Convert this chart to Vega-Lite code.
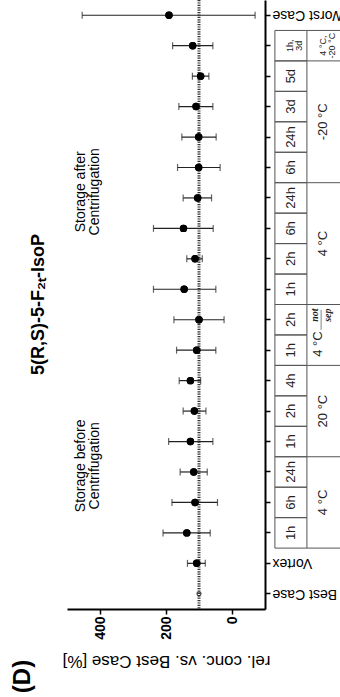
{
  "$schema": "https://vega.github.io/schema/vega-lite/v6.json",
  "width": 198,
  "height": 609,
  "autosize": {"type": "none"},
  "padding": {"left": 67, "top": 0, "right": 75, "bottom": 88},
  "background": "white",
  "config": {"view": {"stroke": null}, "font": "Liberation Sans"},
  "title": {"text": "5(R,S)-5-F₂ₜ-IsoP", "orient": "left", "anchor": "middle", "fontSize": 18, "fontWeight": "bold", "font": "Liberation Sans", "offset": -38, "color": "black"},
  "datasets": {
    "one": [{}],
    "pts": [
      {"cat": "Best Case", "mean": 100},
      {"cat": "Vortex", "mean": 107, "lo": 81, "hi": 135},
      {"cat": "b4-1h", "mean": 137, "lo": 66, "hi": 209},
      {"cat": "b4-6h", "mean": 112, "lo": 44, "hi": 182},
      {"cat": "b4-24h", "mean": 116, "lo": 75, "hi": 157},
      {"cat": "b20-1h", "mean": 126, "lo": 58, "hi": 192},
      {"cat": "b20-2h", "mean": 114, "lo": 79, "hi": 148},
      {"cat": "b20-4h", "mean": 126, "lo": 95, "hi": 160},
      {"cat": "ns-1h", "mean": 107, "lo": 49, "hi": 168},
      {"cat": "ns-2h", "mean": 100, "lo": 24, "hi": 176},
      {"cat": "a4-1h", "mean": 145, "lo": 49, "hi": 238},
      {"cat": "a4-2h", "mean": 112, "lo": 90, "hi": 137},
      {"cat": "a4-6h", "mean": 147, "lo": 57, "hi": 238},
      {"cat": "a4-24h", "mean": 104, "lo": 62, "hi": 148},
      {"cat": "m20-6h", "mean": 101, "lo": 36, "hi": 165},
      {"cat": "m20-24h", "mean": 101, "lo": 48, "hi": 152},
      {"cat": "m20-3d", "mean": 109, "lo": 58, "hi": 161},
      {"cat": "m20-5d", "mean": 95, "lo": 70, "hi": 120},
      {"cat": "mix", "mean": 119, "lo": 58, "hi": 180},
      {"cat": "Worst Case", "mean": 191, "lo": -70, "hi": 454}
    ],
    "cells": [
      {"cat": "b4-1h", "t": "1h"}, {"cat": "b4-6h", "t": "6h"}, {"cat": "b4-24h", "t": "24h"},
      {"cat": "b20-1h", "t": "1h"}, {"cat": "b20-2h", "t": "2h"}, {"cat": "b20-4h", "t": "4h"},
      {"cat": "ns-1h", "t": "1h"}, {"cat": "ns-2h", "t": "2h"},
      {"cat": "a4-1h", "t": "1h"}, {"cat": "a4-2h", "t": "2h"}, {"cat": "a4-6h", "t": "6h"}, {"cat": "a4-24h", "t": "24h"},
      {"cat": "m20-6h", "t": "6h"}, {"cat": "m20-24h", "t": "24h"}, {"cat": "m20-3d", "t": "3d"}, {"cat": "m20-5d", "t": "5d"},
      {"cat": "mix", "t": "1h,\n3d"}
    ],
    "groups": [
      {"at": "b4-6h", "label": "4 °C", "n": 3},
      {"at": "b20-2h", "label": "20 °C", "n": 3},
      {"at": "a4-2h", "label": "4 °C", "n": 4},
      {"at": "m20-24h", "label": "-20 °C", "n": 4}
    ],
    "edges": [{"cat": "mix"}, {"cat": "m20-5d"}, {"cat": "a4-24h"}, {"cat": "ns-2h"}, {"cat": "b20-4h"}, {"cat": "b4-24h"}, {"cat": "Vortex"}],
    "notes": [
      {"at": "b4-24h", "text": "Storage before\nCentrifugation"},
      {"at": "a4-24h", "text": "Storage after\nCentrifugation"}
    ]
  },
  "layer": [
    {
      "data": {"name": "pts"},
      "transform": [{"filter": "datum.cat != 'Best Case'"}],
      "mark": {"type": "circle", "color": "black", "size": 55, "opacity": 1},
      "encoding": {
        "x": {"field": "mean", "type": "quantitative",
          "scale": {"domain": [-100, 500], "reverse": true, "nice": false, "zero": false},
          "axis": {"values": [0, 200, 400], "grid": false, "title": "rel. conc. vs. Best Case [%]", "titleAngle": 180, "titleBaseline": "bottom", "titleFontSize": 17, "titleFontWeight": "normal", "titleColor": "black", "titlePadding": 12, "titleFont": "Liberation Sans",
            "labelAngle": -90, "labelAlign": "right", "labelBaseline": "middle", "labelFontSize": 14, "labelFontWeight": "bold", "labelColor": "black", "labelPadding": 2, "labelFont": "Liberation Sans",
            "tickSize": 5, "tickWidth": 1.5, "tickColor": "black", "domainColor": "black", "domainWidth": 2}
        },
        "y": {"field": "cat", "type": "nominal",
          "scale": {"type": "band", "paddingInner": 0, "paddingOuter": 0,
            "domain": ["Worst Case", "mix", "m20-5d", "m20-3d", "m20-24h", "m20-6h", "a4-24h", "a4-6h", "a4-2h", "a4-1h", "ns-2h", "ns-1h", "b20-4h", "b20-2h", "b20-1h", "b4-24h", "b4-6h", "b4-1h", "Vortex", "Best Case"]},
          "axis": {"orient": "right", "title": "(D)", "titleAngle": -90, "titleFontSize": 24, "titleFontWeight": "bold", "titleColor": "black", "titleX": -243, "titleY": 676, "titleAlign": "center", "titleBaseline": "middle", "titleFont": "Liberation Sans",
            "labelAngle": 180, "labelAlign": "right", "labelBaseline": "middle", "labelFontSize": 14, "labelColor": "black", "labelPadding": 2, "labelFont": "Liberation Sans", "labelOverlap": false,
            "labelExpr": "indexof(['Best Case','Vortex','Worst Case'], datum.value) >= 0 ? datum.value : ''",
            "tickSize": 5, "tickWidth": 1.5, "tickColor": "black", "domainColor": "black", "domainWidth": 2, "grid": false}
        }
      }
    },
    {
      "data": {"name": "one"},
      "mark": {"type": "rule", "strokeDash": [1.2, 1.2], "strokeWidth": 3, "color": "#333"},
      "encoding": {"x": {"datum": 100, "type": "quantitative"}}
    },
    {
      "data": {"name": "pts"},
      "mark": {"type": "rule", "color": "#222", "strokeWidth": 1.2},
      "encoding": {
        "x": {"field": "lo", "type": "quantitative"},
        "x2": {"field": "hi"},
        "y": {"field": "cat", "type": "nominal"}
      }
    },
    {
      "data": {"name": "pts"},
      "mark": {"type": "tick", "color": "#222", "size": 7, "thickness": 1.2, "orient": "vertical"},
      "encoding": {
        "x": {"field": "lo", "type": "quantitative"},
        "y": {"field": "cat", "type": "nominal"}
      }
    },
    {
      "data": {"name": "pts"},
      "mark": {"type": "tick", "color": "#222", "size": 7, "thickness": 1.2, "orient": "vertical"},
      "encoding": {
        "x": {"field": "hi", "type": "quantitative"},
        "y": {"field": "cat", "type": "nominal"}
      }
    },
    {
      "data": {"name": "pts"},
      "transform": [{"filter": "datum.cat != 'Best Case'"}],
      "mark": {"type": "circle", "color": "black", "size": 55, "opacity": 1},
      "encoding": {
        "x": {"field": "mean", "type": "quantitative"},
        "y": {"field": "cat", "type": "nominal"}
      }
    },
    {
      "data": {"name": "pts"},
      "transform": [{"filter": "datum.cat == 'Best Case'"}],
      "mark": {"type": "point", "shape": "circle", "filled": false, "color": "black", "size": 16, "strokeWidth": 1.2},
      "encoding": {
        "x": {"field": "mean", "type": "quantitative"},
        "y": {"field": "cat", "type": "nominal"}
      }
    },
    {
      "data": {"name": "cells"},
      "mark": {"type": "rect", "fillOpacity": 0, "fill": "white", "stroke": "#555", "strokeWidth": 1},
      "encoding": {
        "x": {"datum": -130, "type": "quantitative"},
        "x2": {"datum": -227},
        "y": {"field": "cat", "type": "nominal"}
      }
    },
    {
      "data": {"name": "edges"},
      "mark": {"type": "rule", "color": "#555", "strokeWidth": 1},
      "encoding": {
        "x": {"datum": -227, "type": "quantitative"},
        "x2": {"datum": -345},
        "y": {"field": "cat", "type": "nominal", "bandPosition": 0}
      }
    },
    {
      "data": {"name": "cells"},
      "transform": [{"filter": "datum.cat != 'mix'"}],
      "mark": {"type": "text", "angle": -90, "align": "center", "baseline": "middle", "fontSize": 13, "color": "#222", "font": "Liberation Sans"},
      "encoding": {
        "x": {"datum": -179, "type": "quantitative"},
        "y": {"field": "cat", "type": "nominal"},
        "text": {"field": "t"}
      }
    },
    {
      "data": {"name": "cells"},
      "transform": [{"filter": "datum.cat == 'mix'"}],
      "mark": {"type": "text", "angle": -90, "align": "center", "baseline": "middle", "fontSize": 9, "lineHeight": 9, "lineBreak": "\n", "color": "#222", "font": "Liberation Sans"},
      "encoding": {
        "x": {"datum": -176, "type": "quantitative"},
        "y": {"field": "cat", "type": "nominal"},
        "text": {"field": "t"}
      }
    },
    {
      "data": {"name": "groups"},
      "transform": [{"filter": "datum.n % 2 == 1"}],
      "mark": {"type": "text", "angle": -90, "align": "center", "baseline": "middle", "fontSize": 13, "color": "#222", "font": "Liberation Sans"},
      "encoding": {
        "x": {"datum": -276, "type": "quantitative"},
        "y": {"field": "at", "type": "nominal", "bandPosition": 0.5},
        "text": {"field": "label"}
      }
    },
    {
      "data": {"name": "groups"},
      "transform": [{"filter": "datum.n % 2 == 0"}],
      "mark": {"type": "text", "angle": -90, "align": "center", "baseline": "middle", "fontSize": 13, "color": "#222", "font": "Liberation Sans"},
      "encoding": {
        "x": {"datum": -276, "type": "quantitative"},
        "y": {"field": "at", "type": "nominal", "bandPosition": 0},
        "text": {"field": "label"}
      }
    },
    {
      "data": {"name": "one"},
      "mark": {"type": "text", "angle": -90, "align": "center", "baseline": "middle", "fontSize": 13, "color": "#222", "font": "Liberation Sans", "text": "4 °C"},
      "encoding": {
        "x": {"datum": -261, "type": "quantitative"},
        "y": {"datum": "ns-1h", "type": "nominal", "bandPosition": 0.3}
      }
    },
    {
      "data": {"name": "one"},
      "mark": {"type": "text", "angle": -90, "align": "center", "baseline": "middle", "fontSize": 10, "fontStyle": "italic", "fontWeight": "bold", "color": "#222", "font": "Liberation Serif", "text": "not"},
      "encoding": {
        "x": {"datum": -250, "type": "quantitative"},
        "y": {"datum": "ns-2h", "type": "nominal", "bandPosition": 0.35}
      }
    },
    {
      "data": {"name": "one"},
      "mark": {"type": "text", "angle": -90, "align": "center", "baseline": "middle", "fontSize": 10, "fontStyle": "italic", "fontWeight": "bold", "color": "#222", "font": "Liberation Serif", "text": "sep"},
      "encoding": {
        "x": {"datum": -292, "type": "quantitative"},
        "y": {"datum": "ns-2h", "type": "nominal", "bandPosition": 0.35}
      }
    },
    {
      "data": {"name": "one"},
      "mark": {"type": "tick", "orient": "vertical", "size": 20, "thickness": 0.8, "color": "#222"},
      "encoding": {
        "x": {"datum": -270, "type": "quantitative"},
        "y": {"datum": "ns-2h", "type": "nominal", "bandPosition": 0.35}
      }
    },
    {
      "data": {"name": "one"},
      "mark": {"type": "text", "angle": -90, "align": "center", "baseline": "middle", "fontSize": 9, "lineHeight": 9, "lineBreak": "\n", "color": "#222", "font": "Liberation Sans", "text": "4 °C,\n-20 °C"},
      "encoding": {
        "x": {"datum": -276, "type": "quantitative"},
        "y": {"datum": "mix", "type": "nominal"}
      }
    },
    {
      "data": {"name": "notes"},
      "mark": {"type": "text", "angle": -90, "align": "center", "baseline": "middle", "fontSize": 14, "lineHeight": 14, "lineBreak": "\n", "color": "black", "font": "Liberation Sans"},
      "encoding": {
        "x": {"datum": 458, "type": "quantitative"},
        "y": {"field": "at", "type": "nominal", "bandPosition": 0.3},
        "text": {"field": "text"}
      }
    }
  ]
}
